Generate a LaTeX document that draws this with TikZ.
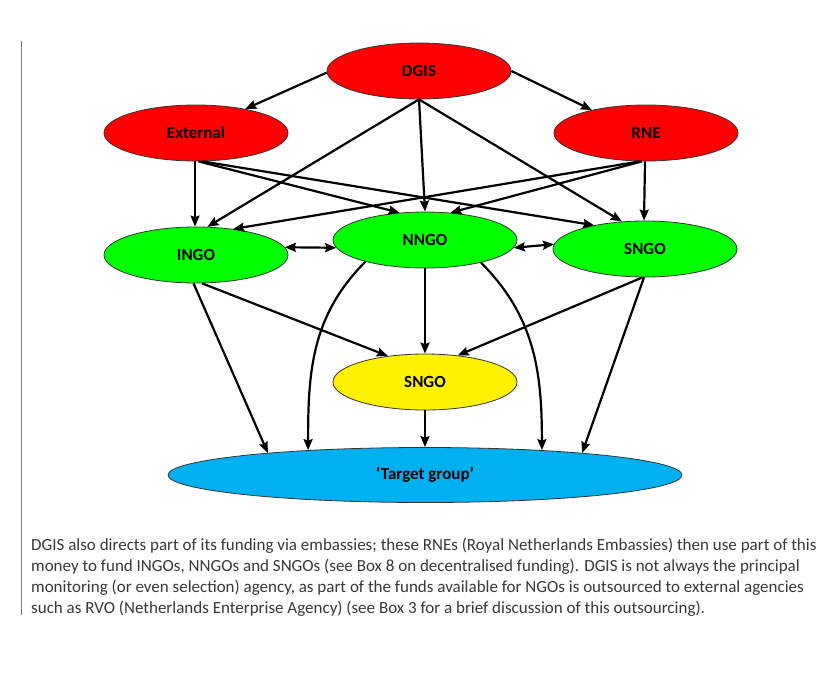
\documentclass[tikz,border=0pt]{standalone}
\usepackage{fontspec}
\setmainfont{Carlito}
\usepackage{tikz}
\usetikzlibrary{shapes.geometric}
\usetikzlibrary{arrows.meta}

\begin{document}
\begin{tikzpicture}[x=1pt, y=1pt, >={Stealth[length=11pt, width=9pt, inset=1.5pt]},
  org/.style={ellipse, draw=black!80, line width=0.8pt, inner sep=0pt,
    minimum width=184pt, minimum height=56pt,
    font=\fontsize{17}{20}\selectfont\bfseries},
  flow/.style={->, line width=2.2pt},
  both/.style={<->, line width=2.2pt}]
\useasboundingbox (0, 0) rectangle (840, -683);
\fill[white] (0, 0) rectangle (840, -683);
\draw[black!50, line width=0.8pt] (21, -41) -- (21, -615);
\node[org, fill=red] (dgis) at (419, -71) {DGIS};
\node[org, fill=red] (ext) at (196, -133) {External};
\node[org, fill=red] (rne) at (646, -133) {RNE};
\node[org, fill=green] (ingo) at (196, -255) {INGO};
\node[org, fill=green] (nngo) at (425, -240) {NNGO};
\node[org, fill=green] (sngo) at (645, -249) {SNGO};
\node[org, fill=yellow] (local) at (425, -382) {SNGO};
\node[org, fill={rgb,255:red,0;green,176;blue,240}, minimum width=514pt, minimum height=55pt] (target) at (425, -475) {‘Target group’};
% from DGIS
\draw[flow] (dgis.181) -- (ext.26);
\draw[flow] (dgis.0) -- (rne.157);
\draw[flow] (dgis.south) -- (ingo.68);
\draw[flow] (dgis.south) -- (nngo.north);
\draw[flow] (dgis.south) -- (sngo.130);
% from External and RNE
\draw[flow] (ext.268) -- (ingo.92);
\draw[flow] (ext.275) -- (nngo.133);
\draw[flow] (ext.282) -- (sngo.155);
\draw[flow] (rne.258) -- (ingo.35);
\draw[flow] (rne.262) -- (nngo.47);
\draw[flow] (rne.268) -- (sngo.92);
% between the NGOs
\draw[both] (ingo.5) -- (nngo.185);
\draw[both] (nngo.355) -- (sngo.177);
% down to the target group
\draw[flow] (ingo.265) -- (target.172);
\draw[flow] (ingo.282) -- (local.145);
\draw[flow] (nngo.200) to[out=225, in=90] (target.168);
\draw[flow] (nngo.south) -- (local.north);
\draw[flow] (nngo.338) to[out=-45, in=90] (target.12);
\draw[flow] (sngo.265) -- (local.39);
\draw[flow] (sngo.268) -- (target.8);
\draw[flow] (local.south) -- (target.north);
\node[anchor=north west, align=left, inner sep=0pt, text=black!78,
  font=\fontsize{17}{21}\selectfont] (note) at (31, -538)
  {DGIS also directs part of its funding via embassies; these RNEs (Royal Netherlands Embassies) then use part of this\\
   money to fund INGOs, NNGOs and SNGOs (see Box 8 on decentralised funding). DGIS is not always the principal\\
   monitoring (or even selection) agency, as part of the funds available for NGOs is outsourced to external agencies\\
   such as RVO (Netherlands Enterprise Agency) (see Box 3 for a brief discussion of this outsourcing).};
\end{tikzpicture}
\end{document}
